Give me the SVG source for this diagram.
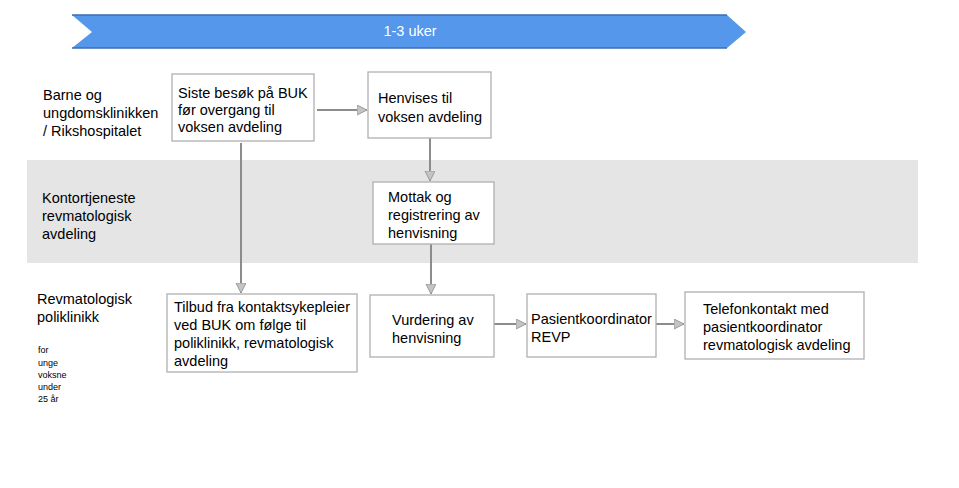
<svg xmlns="http://www.w3.org/2000/svg" width="959" height="488" viewBox="0 0 959 488">
<style>
text{font-family:"Liberation Sans",Arial,sans-serif;font-size:14.5px;fill:#000}
.box{fill:#fff;stroke:#b0b0b0;stroke-width:1.3}
.conn{stroke:#8c8c8c;stroke-width:2;fill:none}
.small{font-size:9px}
</style>
<defs>
<marker id="ah" markerWidth="12" markerHeight="12" refX="10" refY="5" orient="auto" markerUnits="userSpaceOnUse">
<path d="M0,0 L10,5 L0,10 Z" fill="#c4c4c4" stroke="#9a9a9a" stroke-width="1"/>
</marker>
</defs>
<rect width="959" height="488" fill="#fff"/>
<g id="band"><rect x="27" y="160" width="891" height="103" fill="#e5e5e5"/></g>
<g id="banner">
<path d="M72,15 L727,15 L746,32 L727,48 L72,48 L92,32 Z" fill="#5597ea"/>
<path d="M72,15 L727,15 M72,48 L727,48" stroke="#3d6db5" stroke-width="1.5"/>
<text x="410" y="36" text-anchor="middle" fill="#fff" style="fill:#fff">1-3 uker</text>
</g>
<g id="lane-labels">
<text x="43" y="100">Barne og</text>
<text x="43" y="118">ungdomsklinikken</text>
<text x="43" y="136">/ Rikshospitalet</text>
<text x="42" y="203">Kontortjeneste</text>
<text x="42" y="221">revmatologisk</text>
<text x="42" y="239">avdeling</text>
<text x="37" y="304">Revmatologisk</text>
<text x="37" y="322">poliklinikk</text>
<text class="small" x="38" y="353">for</text>
<text class="small" x="38" y="366">unge</text>
<text class="small" x="38" y="378">voksne</text>
<text class="small" x="38" y="390">under</text>
<text class="small" x="38" y="402">25 år</text>
</g>
<g id="connectors">
<path class="conn" d="M317,110 L367,110" marker-end="url(#ah)"/>
<path class="conn" d="M430,138 L430,181" marker-end="url(#ah)"/>
<path class="conn" d="M241,143 L241,293" marker-end="url(#ah)"/>
<path class="conn" d="M431,244 L431,294" marker-end="url(#ah)"/>
<path class="conn" d="M494,324 L526,324" marker-end="url(#ah)"/>
<path class="conn" d="M656,324 L684,324" marker-end="url(#ah)"/>
</g>
<g id="n-siste">
<rect class="box" x="172" y="74" width="142" height="67"/>
<text x="178" y="98">Siste besøk på BUK</text>
<text x="178" y="115">før overgang til</text>
<text x="178" y="132">voksen avdeling</text>
</g>
<g id="n-henvises">
<rect class="box" x="368" y="72" width="123" height="66"/>
<text x="378" y="103">Henvises til</text>
<text x="378" y="122">voksen avdeling</text>
</g>
<g id="n-mottak">
<rect class="box" x="373" y="182" width="121" height="62"/>
<text x="388" y="202">Mottak og</text>
<text x="388" y="220">registrering av</text>
<text x="388" y="238">henvisning</text>
</g>
<g id="n-tilbud">
<rect class="box" x="167" y="294" width="190" height="78"/>
<text x="174" y="312">Tilbud fra kontaktsykepleier</text>
<text x="174" y="330">ved BUK om følge til</text>
<text x="174" y="348">poliklinikk, revmatologisk</text>
<text x="174" y="366">avdeling</text>
</g>
<g id="n-vurdering">
<rect class="box" x="370" y="295" width="124" height="62"/>
<text x="392" y="325">Vurdering av</text>
<text x="392" y="343">henvisning</text>
</g>
<g id="n-pasient">
<rect class="box" x="527" y="294" width="129" height="63"/>
<text x="531" y="324">Pasientkoordinator</text>
<text x="531" y="342">REVP</text>
</g>
<g id="n-telefon">
<rect class="box" x="685" y="292" width="179" height="67"/>
<text x="703" y="314">Telefonkontakt med</text>
<text x="703" y="332">pasientkoordinator</text>
<text x="703" y="350">revmatologisk avdeling</text>
</g>
</svg>
